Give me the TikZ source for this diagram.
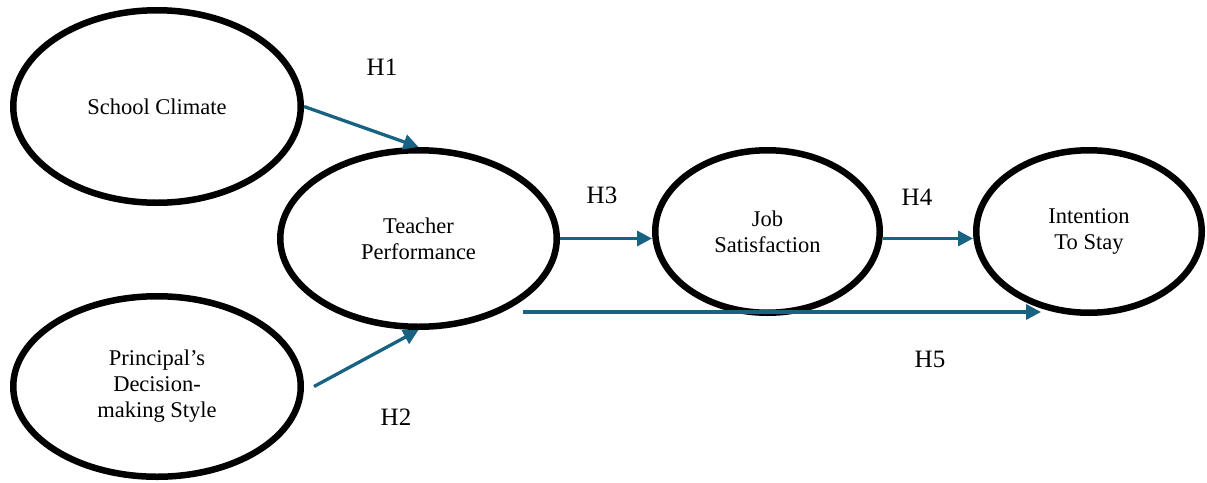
\documentclass[tikz,border=0pt]{standalone}
\usepackage{fontspec}
\setmainfont{Liberation Serif}
\usetikzlibrary{shapes.geometric,arrows.meta}
\definecolor{arrowblue}{HTML}{186282}
\tikzset{
  construct/.style={draw=black, line width=6.5pt, ellipse, inner sep=0pt, align=center,
    font=\fontsize{22.5}{26}\selectfont},
  path arrow/.style={draw=arrowblue, line width=3.3pt, -{Triangle[length=15pt,width=15pt]}},
  hlabel/.style={font=\fontsize{25}{30}\selectfont, inner sep=0pt}
}
\begin{document}
\begin{tikzpicture}[x=1pt,y=-1pt]
\useasboundingbox (0,0) rectangle (1207,482);
\node[construct, minimum width=287.5pt, minimum height=192.5pt] (sc) at (157,106.5) {School Climate};
\node[construct, minimum width=287.5pt, minimum height=180.5pt] (pd) at (157,386.5) {Principal’s\\Decision-\\making Style};
\node[construct, minimum width=276.5pt, minimum height=176.5pt] (tp) at (418.5,238.5) {Teacher\\Performance};
\node[construct, minimum width=224.5pt, minimum height=162.5pt] (js) at (767.5,231.5) {Job\\Satisfaction};
\node[construct, minimum width=225.5pt, minimum height=162.5pt] (is) at (1089,231.5) {Intention\\To Stay};
\coordinate (h5s) at (523,312);
\coordinate (h5e) at (1041,312);
\draw[path arrow] (sc.east) -- (tp.north);
\draw[path arrow] ([xshift=10pt]pd.east) -- (tp.south);
\draw[path arrow] (tp.east) -- (tp.east -| js.west);
\draw[path arrow] (js.east |- tp.east) -- (is.west |- tp.east);
\draw[path arrow] (h5s) -- (h5e);
\node[hlabel] (h1) at (382,67) {H1};
\node[hlabel] (h2) at (396,417) {H2};
\node[hlabel] (h3) at (602,195) {H3};
\node[hlabel] (h4) at (917,197) {H4};
\node[hlabel] (h5) at (930,359) {H5};
\end{tikzpicture}
\end{document}
